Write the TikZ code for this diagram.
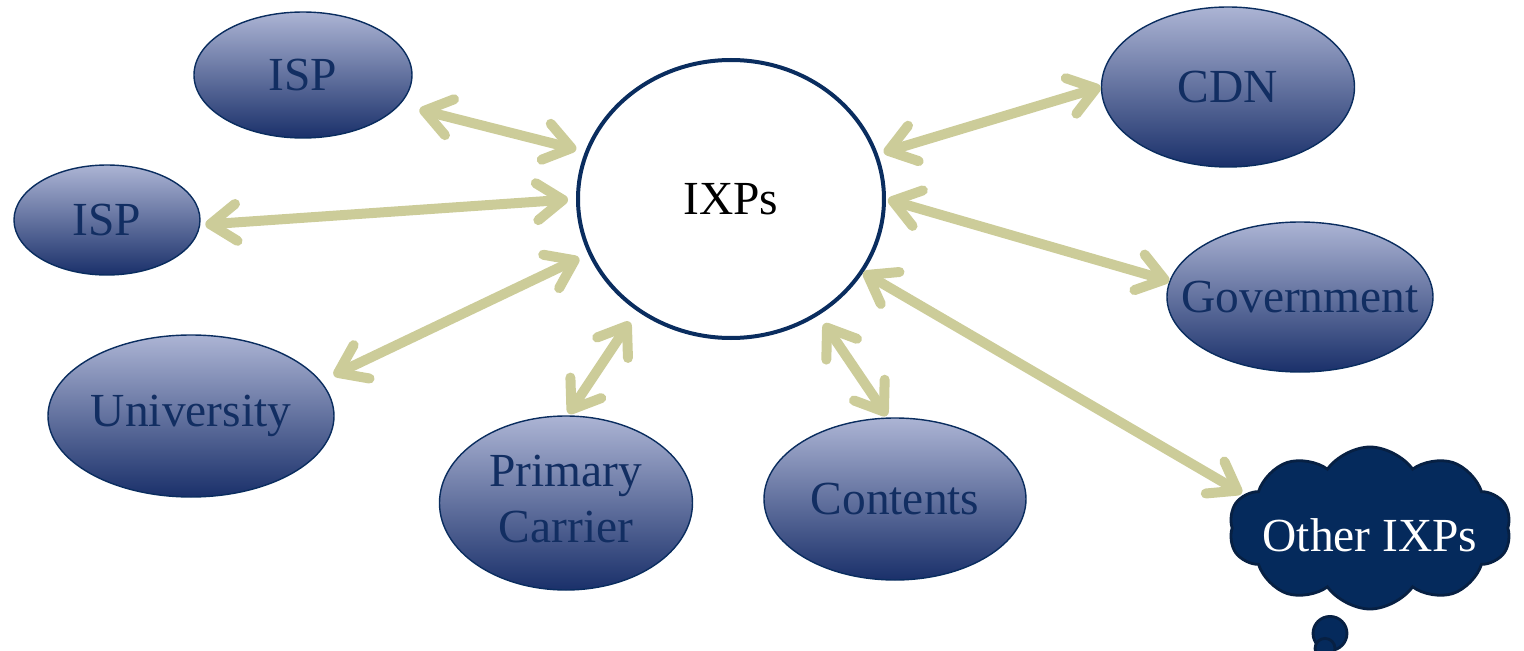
\documentclass[tikz,border=0pt]{standalone}
\usepackage{fontspec}
\setmainfont{Liberation Serif}
\usetikzlibrary{positioning}
\usetikzlibrary{shapes.geometric,shapes.symbols,arrows.meta}
\definecolor{ixpnavy}{RGB}{10,45,95}
\definecolor{peertop}{RGB}{172,180,212}
\definecolor{peerbottom}{RGB}{26,48,106}
\definecolor{peertext}{RGB}{18,46,98}
\definecolor{linkkhaki}{RGB}{204,204,153}
\definecolor{cloudnavy}{RGB}{5,42,92}
\tikzstyle{peer}=[ellipse,draw=ixpnavy,line width=0.8pt,top color=peertop,bottom color=peerbottom,text=peertext,inner sep=0pt,font=\fontsize{27}{32}\selectfont]
\tikzstyle{peer link}=[{Straight Barb[round,length=0.52cm,width=0.74cm]}-{Straight Barb[round,length=0.52cm,width=0.74cm]},line width=0.2cm,draw=linkkhaki,line cap=round,preaction={draw=black!12,transform canvas={xshift=1.2pt,yshift=-1.8pt}}]
\tikzstyle{other cloud}=[cloud,cloud puffs=10,cloud puff arc=110,aspect=1.8,draw=ixpnavy!70!black,line width=1.6pt,fill=cloudnavy,text=white,inner sep=0pt,font=\fontsize{27}{32}\selectfont]
\newcommand{\peernode}[3][]{
  \node [peer, on grid, #1] (#2) {\makebox[0pt]{#3}}
}

\begin{document}
\begin{tikzpicture}
        \useasboundingbox (-14.62,-9.04) rectangle (15.86,3.98);
        \node [ellipse,draw=ixpnavy,line width=0.08cm,fill=white,minimum width=6.12cm,minimum height=5.56cm,font=\fontsize{27}{32}\selectfont] (ixp) {IXPs};
        \peernode[above left=2.48cm and 8.56cm of ixp,minimum width=4.36cm,minimum height=2.52cm]{isp1}{ISP};
        \peernode[below left=0.42cm and 12.48cm of ixp,minimum width=3.72cm,minimum height=2.2cm]{isp2}{ISP};
        \peernode[below left=4.34cm and 10.8cm of ixp,minimum width=5.72cm,minimum height=3.24cm]{uni}{University};
        \peernode[below left=6.08cm and 3.3cm of ixp,minimum width=5.06cm,minimum height=3.48cm]{carrier}{\begin{tabular}{@{}c@{}}Primary\\Carrier\end{tabular}};
        \peernode[below right=6.0cm and 3.28cm of ixp,minimum width=5.24cm,minimum height=3.24cm]{contents}{Contents};
        \peernode[above right=2.24cm and 9.94cm of ixp,minimum width=5.06cm,minimum height=3.2cm]{cdn}{CDN};
        \peernode[below right=1.96cm and 11.38cm of ixp,minimum width=5.32cm,minimum height=3.0cm]{gov}{Government};
        \node [other cloud,on grid,below right=6.58cm and 12.78cm of ixp,minimum width=5.64cm,minimum height=3.24cm] (cloud) {\makebox[0pt]{\smash{\raisebox{-0.46cm}{Other IXPs}}}};
        \draw [other cloud] (cloud.south) ++(-0.8,-0.46) circle (0.34cm);
        \draw [other cloud] (cloud.south) ++(-0.9,-0.76) circle (0.2cm);

        % links to the exchange
        \draw [peer link,shorten <=0.4cm,shorten >=0.18cm] (isp1.-17) -- (ixp.162);
        \draw [peer link,shorten <=0.1cm,shorten >=0.16cm] (isp2.-3) -- (ixp.180);
        \draw [peer link,shorten <=0.28cm,shorten >=0.2cm] (uni.15) -- (ixp.201);
        \draw [peer link,shorten <=0.04cm,shorten >=0.26cm] (carrier.89) -- (ixp.230);
        \draw [peer link,shorten <=0.2cm,shorten >=0.04cm] (ixp.-53) -- (contents.95);
        \draw [peer link,shorten <=0.12cm] (ixp.17) -- (cdn.180);
        \draw [peer link,shorten <=0.04cm] (ixp.0) -- (gov.173);
        \draw [peer link,shorten >=0.04cm] (ixp.-29) -- (cloud.165);
\end{tikzpicture}
\end{document}
